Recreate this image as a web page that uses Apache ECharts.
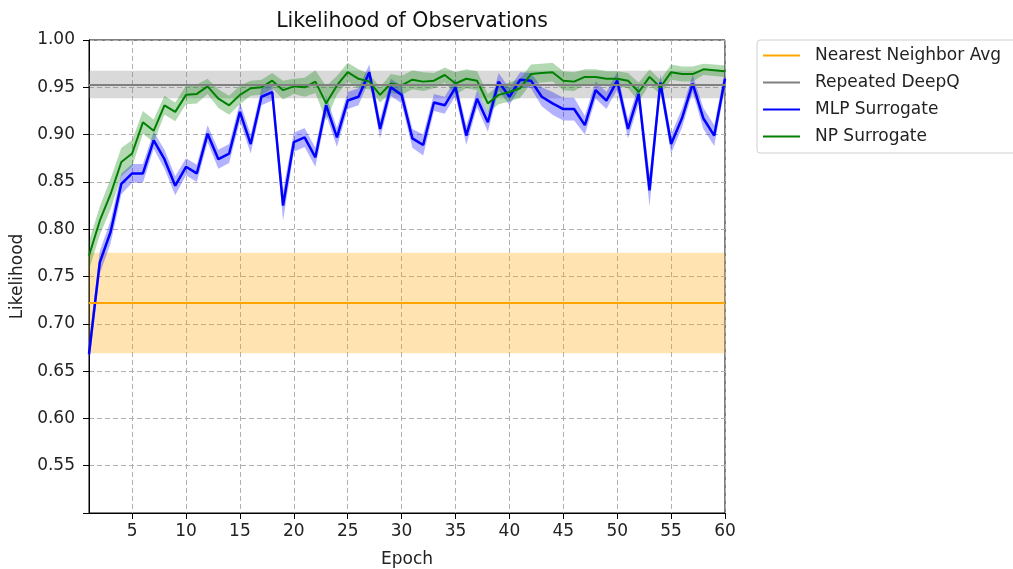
<!DOCTYPE html>
<html>
<head>
<meta charset="utf-8">
<script src="https://cdn.jsdelivr.net/npm/echarts@6/dist/echarts.min.js"></script>
<style>
  html, body { margin: 0; padding: 0; background: #fff; }
  #main { width: 1013px; height: 569px; }
</style>
</head>
<body>
<div id="main"></div>
<script>
// epochs 1..60
var epochs = [];
for (var i = 1; i <= 60; i++) epochs.push(i);

// MLP surrogate mean / spread
var mlpMean = [
  0.668, 0.765, 0.797, 0.848, 0.859, 0.859, 0.894, 0.874, 0.846, 0.866,
  0.859, 0.901, 0.874, 0.880, 0.924, 0.890, 0.940, 0.945, 0.825, 0.892,
  0.897, 0.876, 0.931, 0.897, 0.936, 0.940, 0.966, 0.906, 0.950, 0.942,
  0.896, 0.889, 0.934, 0.931, 0.950, 0.899, 0.938, 0.913, 0.956, 0.940,
  0.958, 0.957, 0.940, 0.933, 0.927, 0.927, 0.910, 0.947, 0.936, 0.957,
  0.906, 0.943, 0.841, 0.955, 0.890, 0.917, 0.954, 0.917, 0.899, 0.959
];
var mlpStd = [
  0.012, 0.012, 0.012, 0.011, 0.010, 0.010, 0.009, 0.010, 0.010, 0.009,
  0.009, 0.009, 0.010, 0.010, 0.010, 0.010, 0.009, 0.009, 0.016, 0.010,
  0.010, 0.010, 0.010, 0.010, 0.009, 0.009, 0.008, 0.010, 0.009, 0.009,
  0.010, 0.011, 0.009, 0.009, 0.009, 0.010, 0.009, 0.010, 0.009, 0.009,
  0.008, 0.008, 0.010, 0.012, 0.012, 0.012, 0.010, 0.009, 0.009, 0.009,
  0.010, 0.010, 0.017, 0.009, 0.010, 0.010, 0.009, 0.011, 0.011, 0.009
];

// NP surrogate mean / spread
var npMean = [
  0.772, 0.809, 0.837, 0.871, 0.880, 0.913, 0.904, 0.931, 0.924, 0.942,
  0.943, 0.951, 0.938, 0.931, 0.942, 0.949, 0.950, 0.957, 0.947, 0.951,
  0.950, 0.956, 0.933, 0.952, 0.966, 0.959, 0.956, 0.942, 0.954, 0.952,
  0.958, 0.956, 0.957, 0.963, 0.954, 0.959, 0.957, 0.933, 0.942, 0.945,
  0.949, 0.964, 0.965, 0.966, 0.957, 0.956, 0.961, 0.961, 0.959, 0.959,
  0.957, 0.945, 0.961, 0.950, 0.966, 0.964, 0.964, 0.969, 0.968, 0.967
];
var npStd = [
  0.015, 0.015, 0.016, 0.015, 0.014, 0.012, 0.012, 0.010, 0.010, 0.010,
  0.010, 0.008, 0.010, 0.010, 0.010, 0.008, 0.008, 0.008, 0.010, 0.008,
  0.010, 0.012, 0.018, 0.010, 0.010, 0.010, 0.008, 0.008, 0.010, 0.010,
  0.010, 0.010, 0.008, 0.008, 0.012, 0.010, 0.010, 0.010, 0.010, 0.010,
  0.010, 0.010, 0.010, 0.010, 0.010, 0.010, 0.008, 0.008, 0.008, 0.008,
  0.008, 0.010, 0.008, 0.008, 0.008, 0.008, 0.008, 0.006, 0.006, 0.006
];

// baselines (mean, spread)
var nnAvg = [0.722, 0.053];
var deepQ = [0.953, 0.0145];

var yTicks = [0.55, 0.60, 0.65, 0.70, 0.75, 0.80, 0.85, 0.90, 0.95, 1.00];

var names = ['Nearest Neighbor Avg', 'Repeated DeepQ', 'MLP Surrogate', 'NP Surrogate'];
var FONT = 'DejaVu Sans';

function lower(m, s) { return m.map(function (v, i) { return +(v - s[i]).toFixed(4); }); }
function width(s) { return s.map(function (v) { return +(2 * v).toFixed(4); }); }

// band = invisible lower line + stacked width
function band(key, m, s, color) {
  return [{
    name: key + 'Lo', type: 'line', stack: key, data: lower(m, s),
    symbol: 'none', lineStyle: { opacity: 0 }, silent: true
  }, {
    name: key + 'Band', type: 'line', stack: key, data: width(s),
    symbol: 'none', lineStyle: { opacity: 0 }, silent: true,
    areaStyle: { color: color, opacity: 0.3 }
  }];
}

function baseline(name, v, color) {
  return {
    name: name, type: 'line', data: [], color: color,
    itemStyle: { color: color },
    markArea: {
      silent: true,
      itemStyle: { color: color, opacity: 0.3 },
      data: [[{ yAxis: v[0] - v[1] }, { yAxis: v[0] + v[1] }]]
    },
    markLine: {
      silent: true, symbol: 'none', precision: 4, label: { show: false },
      lineStyle: { color: color, width: 2, type: 'solid' },
      data: [{ yAxis: v[0] }]
    }
  };
}

var chart = echarts.init(document.getElementById('main'));
var series = [
  baseline(names[0], nnAvg, '#ffa500'),
  baseline(names[1], deepQ, '#808080')
].concat(band('mlp', mlpMean, mlpStd, '#0000ff')).concat([{
  name: names[2], type: 'line', data: mlpMean, symbol: 'none',
  color: '#0000ff', lineStyle: { color: '#0000ff', width: 2.5 }
}]).concat(band('np', npMean, npStd, '#008000')).concat([{
  name: names[3], type: 'line', data: npMean, symbol: 'none',
  color: '#008000', lineStyle: { color: '#008000', width: 2 }
}]);

chart.setOption({
  animation: false,
  title: {
    text: 'Likelihood of Observations',
    left: 407, textAlign: 'center', top: 6,
    textStyle: { fontFamily: FONT, fontSize: 20.5, fontWeight: 'normal', color: '#111' }
  },
  legend: {
    data: names,
    orient: 'vertical',
    left: 757, top: 40,
    icon: 'rect', itemWidth: 37, itemHeight: 2, itemGap: 10,
    padding: [7, 20, 8, 6],
    backgroundColor: '#fff', borderColor: '#d0d0d0', borderWidth: 1, borderRadius: 3,
    textStyle: { fontFamily: FONT, fontSize: 17, color: '#222', padding: [0, 0, 0, 10] }
  },
  grid: {
    left: 89, right: 288, top: 40, bottom: 56,
    containLabel: false, outerBoundsMode: 'none',
    show: true, borderColor: '#000', borderWidth: 1
  },
  xAxis: {
    type: 'category', data: epochs, boundaryGap: false,
    name: 'Epoch', nameLocation: 'middle', nameGap: 38,
    nameTextStyle: { fontFamily: FONT, fontSize: 17, color: '#222' },
    axisLine: { show: true, lineStyle: { color: '#000' } },
    axisTick: { show: true, length: 6, lineStyle: { color: '#000' },
      interval: function (i, v) { return v % 5 === 0; } },
    axisLabel: { fontFamily: FONT, fontSize: 17, color: '#222', margin: 10,
      interval: function (i, v) { return v % 5 === 0; } },
    splitLine: { show: true, lineStyle: { color: '#b0b0b0', type: [5, 3] },
      interval: function (i, v) { return v % 5 === 0 && v !== 60; } }
  },
  yAxis: {
    type: 'value', min: 0.5, max: 1.0, interval: 0.05,
    name: 'Likelihood', nameLocation: 'middle', nameGap: 60,
    nameTextStyle: { fontFamily: FONT, fontSize: 17, color: '#222' },
    axisLine: { show: true, lineStyle: { color: '#000' } },
    axisTick: { show: true, length: 6, lineStyle: { color: '#000' } },
    axisLabel: { fontFamily: FONT, fontSize: 17, color: '#222', margin: 14,
      formatter: function (v) {
        var t = yTicks.filter(function (k) { return Math.abs(k - v) < 1e-6; });
        return t.length ? t[0].toFixed(2) : '';
      } },
    splitLine: { show: true, lineStyle: { color: '#b0b0b0', type: [5, 3] } }
  },
  series: series
});
</script>
</body>
</html>
